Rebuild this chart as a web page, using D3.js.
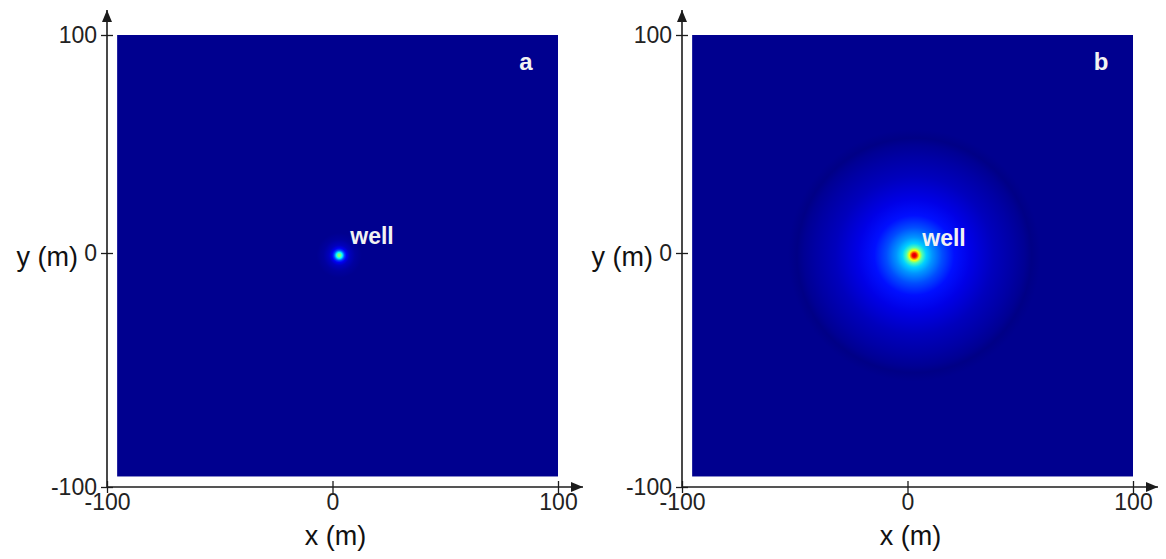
<!DOCTYPE html>
<html>
<head>
<meta charset="utf-8">
<script src="https://cdn.jsdelivr.net/npm/d3@7"></script>
<style>
  body { margin: 0; background: #fff; }
  svg { display: block; }
  text { font-family: "Liberation Sans", Arial, sans-serif; }
</style>
</head>
<body>
<svg id="chart" width="1166" height="559"></svg>
<script>
// axis ticks (m)
var xTicks = [-100, 0, 100];
var yTicks = [-100, 0, 100];
// extent of the computed field (m)
var fieldExtent = [-95.5, 100];
// well location (m)
var wellPos = [3, -1];
var panelLabels = ['a', 'b'];

var radiusA = [0, 0.6, 1.3, 1.8, 2.4, 3.2, 4.5, 7, 10];
var valueA  = [0.52, 0.5, 0.38, 0.28, 0.18, 0.11, 0.06, 0.03, 0.015];

// radial profile
var radiusB = [0, 0.9, 2.2, 3.5, 5.3, 8, 12.4, 17.7, 25, 35, 44, 49, 52, 56];
var valueB  = [0.93, 0.88, 0.62, 0.45, 0.33, 0.27, 0.2, 0.14, 0.1, 0.06, 0.035, 0.02, 0.006, 0.015];

var profiles = [
    {radius: radiusA, value: valueA},
    {radius: radiusB, value: valueB}
];

var svg = d3.select('#chart');
var defs = svg.append('defs');

var jet = d3.scaleLinear()
    .domain([0, 0.125, 0.375, 0.625, 0.875, 1])
    .range(['#000080', '#0000ff', '#00ffff', '#ffff00', '#ff0000', '#800000'])
    .clamp(true);

var axisColor = '#1c1c1c';

// arrow head
defs.append('marker')
    .attr('id', 'arrow')
    .attr('viewBox', '0 0 12 10')
    .attr('refX', 12).attr('refY', 5)
    .attr('markerWidth', 12).attr('markerHeight', 10)
    .attr('markerUnits', 'userSpaceOnUse')
    .attr('orient', 'auto')
    .append('path')
    .attr('d', 'M0,0L12,5L0,10Z')
    .attr('fill', axisColor);

var panelX = [107, 682];

panelX.forEach(function (x0, i) {
    var x = d3.scaleLinear().domain([-100, 100]).range([x0, x0 + 451]);
    var y = d3.scaleLinear().domain([-100, 0, 100]).range([487, 253, 35]);
    var g = svg.append('g');
    var prof = profiles[i];

    var cx = x(wellPos[0]), cy = y(wellPos[1]);
    var pxPerM = x(1) - x(0);
    var rMax = prof.radius[prof.radius.length - 1];

    var grad = defs.append('radialGradient')
        .attr('id', 'field' + i)
        .attr('gradientUnits', 'userSpaceOnUse')
        .attr('cx', cx).attr('cy', cy).attr('fx', cx).attr('fy', cy)
        .attr('r', rMax * pxPerM);
    grad.selectAll('stop')
        .data(prof.radius)
        .enter()
        .append('stop')
        .attr('offset', function (r) { return r / rMax; })
        .attr('stop-color', function (r, j) { return jet(prof.value[j]); });

    g.append('rect')
        .attr('x', x(fieldExtent[0]))
        .attr('y', y(fieldExtent[1]))
        .attr('width', x(fieldExtent[1]) - x(fieldExtent[0]))
        .attr('height', y(fieldExtent[0]) - y(fieldExtent[1]))
        .attr('fill', 'url(#field' + i + ')');

    // axes
    var fmt = function (d) { return String(d); };
    var yAxis = g.append('g')
        .attr('transform', 'translate(' + x0 + ',0)')
        .call(d3.axisLeft(y).tickValues(yTicks).tickSize(6).tickPadding(4).tickFormat(fmt));
    var xAxis = g.append('g')
        .attr('transform', 'translate(0,' + y(-100) + ')')
        .call(d3.axisBottom(x).tickValues(xTicks).tickSize(6).tickPadding(1).tickFormat(fmt));

    [xAxis, yAxis].forEach(function (ax) {
        ax.select('.domain').remove();
        ax.selectAll('.tick line').attr('stroke', axisColor).attr('stroke-width', 1.3);
        ax.selectAll('.tick text')
            .attr('fill', '#222')
            .style('font-size', '23px')
            .style('font-family', '"Liberation Sans", Arial, sans-serif');
    });
    yAxis.selectAll('.tick line').attr('x1', 6);
    xAxis.selectAll('.tick line').attr('y1', -6);

    g.append('line')
        .attr('x1', x0).attr('x2', x0)
        .attr('y1', y(-100) + 1).attr('y2', 10)
        .attr('stroke', axisColor).attr('stroke-width', 1.6)
        .attr('marker-end', 'url(#arrow)');
    g.append('line')
        .attr('x1', x0).attr('x2', x(100) + 25)
        .attr('y1', y(-100)).attr('y2', y(-100))
        .attr('stroke', axisColor).attr('stroke-width', 1.6)
        .attr('marker-end', 'url(#arrow)');

    // axis titles
    g.append('text')
        .attr('x', x(0) + 3).attr('y', 545)
        .attr('text-anchor', 'middle')
        .attr('fill', '#111')
        .style('font-size', '27px')
        .text('x (m)');
    g.append('text')
        .attr('x', x0 - 29).attr('y', 266)
        .attr('text-anchor', 'end')
        .attr('fill', '#111')
        .style('font-size', '27px')
        .text('y (m)');

    // annotations
    g.append('text')
        .attr('x', cx + (i === 0 ? 11 : 8)).attr('y', cy - (i === 0 ? 11 : 9))
        .attr('fill', '#f2f2f2')
        .style('font-size', '23px')
        .style('font-weight', 'bold')
        .text('well');
    g.append('text')
        .attr('x', x(fieldExtent[1]) - 32).attr('y', 70)
        .attr('text-anchor', 'middle')
        .attr('fill', '#f2f2f2')
        .style('font-size', '24px')
        .style('font-weight', 'bold')
        .text(panelLabels[i]);
});
</script>
</body>
</html>
